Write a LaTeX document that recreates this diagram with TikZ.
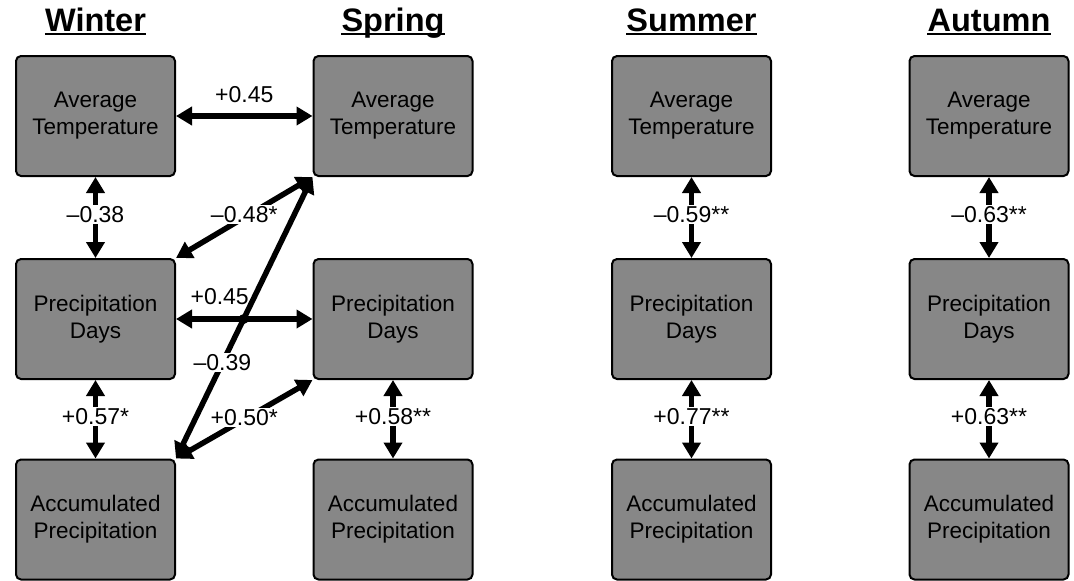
\documentclass[tikz,border=0pt]{standalone}
\usepackage{fontspec}
\setmainfont{Liberation Sans}
\usetikzlibrary{arrows.meta}
\definecolor{boxgray}{HTML}{878787}
\begin{document}
\begin{tikzpicture}[x=1pt,y=-1pt,
  box/.style={draw=black, line width=2pt, fill=boxgray, rounded corners=5pt,
    minimum width=159pt, minimum height=120pt, align=center,
    font=\fontsize{22.5}{27}\selectfont, inner sep=0pt},
  link/.style={{Triangle[length=16pt,width=18pt]}-{Triangle[length=16pt,width=18pt]}, line width=5.5pt},
  lab/.style={fill=white, inner sep=1.5pt, font=\fontsize{23}{26}\selectfont},
  vlab/.style={lab, midway, yshift=3pt},
  head/.style={font=\bfseries\fontsize{32.5}{38}\selectfont, inner sep=0pt, anchor=base},
  uline/.style={line width=2.5pt}]
\useasboundingbox (0,0) rectangle (1074,581);

% headers
\node[head] (hw) at (95.5,31) {Winter};
\node[head] (hs) at (393,31) {Spring};
\node[head] (hu) at (691.5,31) {Summer};
\node[head] (ha) at (989,31) {Autumn};
\foreach \h in {hw,hs,hu,ha}
  \draw[uline] ([yshift=-3pt]\h.base west) -- ([yshift=-3pt]\h.base east);

% boxes
\foreach \c/\x in {w/95.5, s/393, u/691.5, a/989}{
  \node[box] (\c t) at (\x,116) {Average\\Temperature};
  \node[box] (\c m) at (\x,319) {Precipitation\\Days};
  \node[box] (\c b) at (\x,519.5) {Accumulated\\Precipitation};
}

% vertical links
\draw[link] (wt) -- (wm) node[vlab] {–0.38};
\draw[link] (wm) -- (wb) node[vlab] {+0.57*};
\draw[link] (sm) -- (sb) node[vlab] {+0.58**};
\draw[link] (ut) -- (um) node[vlab] {–0.59**};
\draw[link] (um) -- (ub) node[vlab] {+0.77**};
\draw[link] (at) -- (am) node[vlab] {–0.63**};
\draw[link] (am) -- (ab) node[vlab] {+0.63**};

% horizontal links
\draw[link] (wt) -- (st) node[lab, midway, above=9pt] {+0.45};
\draw[link] (wm) -- (sm) node[lab, pos=0.32, above=10pt] {+0.45};

% diagonal links
\draw[link] (wm.north east) -- (st.south west) node[lab, midway, yshift=3pt] {–0.48*};
\draw[link] (st.south west) -- (wb.north east) node[lab, pos=0.66] {–0.39};
\draw[link] (wb.north east) -- (sm.south west) node[lab, midway, yshift=2pt] {+0.50*};

\fill (intersection of st.south west--wb.north east and wm.east--sm.west) circle (5pt);
\end{tikzpicture}
\end{document}
